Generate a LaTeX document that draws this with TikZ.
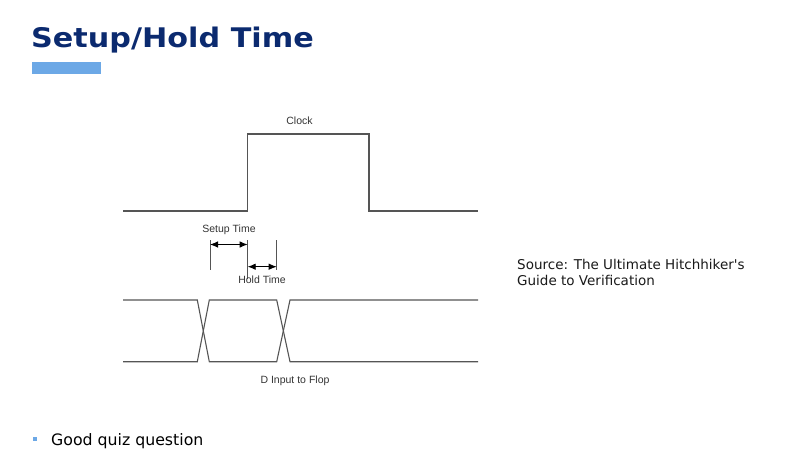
\documentclass[tikz,border=0pt]{standalone}
\usepackage{fontspec}
\setmainfont{DejaVu Sans}
\newfontfamily\diagfont{Liberation Sans}
\newfontfamily\srcfont{DejaVu Sans}[Ligatures=ResetAll]
\newfontfamily\titlefont[FakeStretch=1.12]{DejaVu Sans Bold}
\usetikzlibrary{arrows.meta}
\definecolor{titleblue}{HTML}{0B2A6F}
\definecolor{barblue}{HTML}{6CA8E6}
\definecolor{wave}{HTML}{555555}
\tikzset{
  wavestyle/.style={draw=wave, line width=1.1pt, line join=miter},
  marker/.style={draw=wave, line width=0.9pt},
  dimarrow/.style={draw=black, line width=0.9pt, {Latex[length=8pt,width=6.5pt]}-{Latex[length=8pt,width=6.5pt]}},
  difflabel/.style={font=\diagfont\fontsize{10.5}{12}\selectfont, text=black!80, inner sep=0pt, anchor=base},
}
\begin{document}
\begin{tikzpicture}[x=1pt,y=-1pt]
\useasboundingbox (0,0) rectangle (800,474);
% title
\node[anchor=base west, inner sep=0pt, text=titleblue, font=\titlefont\fontsize{27}{30}\selectfont] (title) at (31,47) {Setup/Hold Time};
\fill[barblue] (32,62) rectangle (101,74);
% clock
\coordinate (c0) at (123,211);
\coordinate (c1) at (247.7,211);
\coordinate (c2) at (247.7,134);
\coordinate (c3) at (369,134);
\coordinate (c4) at (369,211);
\coordinate (c5) at (478,211);
\draw[wavestyle] (c0) -- (c1) -- (c2) -- (c3) -- (c4) -- (c5);
\node[difflabel] (clk) at (299.5,124.3) {Clock};
% setup / hold markers
\coordinate (m1t) at (210,240);
\coordinate (m1b) at (210,270);
\coordinate (m2t) at (247.7,240);
\coordinate (m2b) at (247.7,279);
\coordinate (m3t) at (276.7,240);
\coordinate (m3b) at (276.7,270);
\draw[marker] (m1t) -- (m1b);
\draw[marker] (m2t) -- (m2b);
\draw[marker] (m3t) -- (m3b);
\coordinate (s1) at (210,244.5);
\coordinate (s2) at (247.7,244.5);
\coordinate (h1) at (247.7,266.7);
\coordinate (h2) at (276.7,266.7);
\draw[dimarrow] (s1) -- (s2);
\draw[dimarrow] (h1) -- (h2);
\node[difflabel] (setup) at (229,232.7) {Setup Time};
\node[difflabel] (hold) at (262,283.5) {Hold Time};
% data
\coordinate (d0t) at (123,300);
\coordinate (d1t) at (197.3,300);
\coordinate (d2t) at (209.3,300);
\coordinate (d3t) at (276.7,300);
\coordinate (d4t) at (290,300);
\coordinate (d5t) at (478,300);
\coordinate (d0b) at (123,361.7);
\coordinate (d1b) at (197.3,361.7);
\coordinate (d2b) at (209.3,361.7);
\coordinate (d3b) at (276.7,361.7);
\coordinate (d4b) at (290,361.7);
\coordinate (d5b) at (478,361.7);
\draw[wavestyle] (d0t) -- (d1t) -- (d2b) -- (d3b) -- (d4t) -- (d5t);
\draw[wavestyle] (d0b) -- (d1b) -- (d2t) -- (d3t) -- (d4b) -- (d5b);
\node[difflabel] (dlab) at (295,383.3) {D Input to Flop};
% source
\node[anchor=base west, align=left, inner sep=0pt, font=\srcfont\fontsize{13.5}{16}\selectfont, text=black!90] (src) at (517,285.5) {Source: The Ultimate Hitchhiker's\\Guide to Verification};
% bullet
\fill[barblue] (32.7,436.7) rectangle (36.7,440.7);
\node[anchor=base west, inner sep=0pt, font=\fontsize{15.75}{18}\selectfont, text=black] (quiz) at (51,445) {Good quiz question};
\end{tikzpicture}
\end{document}
